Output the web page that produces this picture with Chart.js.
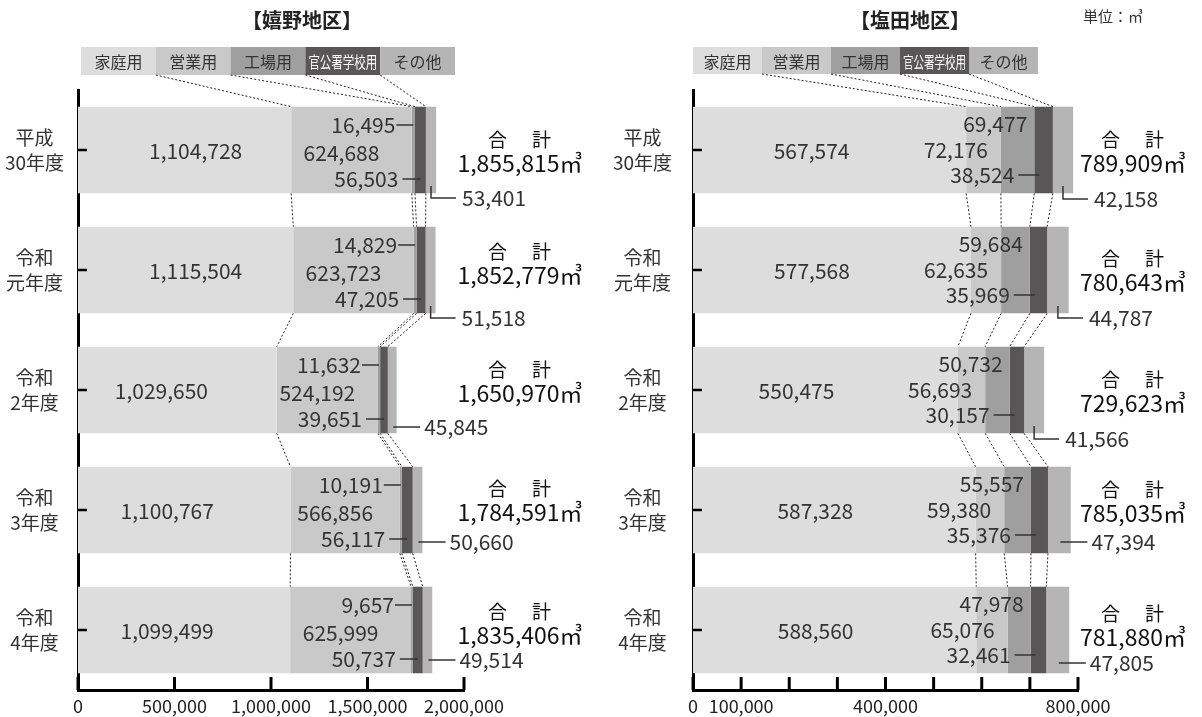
<!DOCTYPE html>
<html><head><meta charset="utf-8">
<script src="https://cdn.jsdelivr.net/npm/chart.js@4/dist/chart.umd.min.js"></script>
<style>
html,body{margin:0;padding:0;background:#fff;}
#wrap{position:relative;width:1202px;height:717px;overflow:hidden;}
canvas{position:absolute;top:0;}
</style></head><body>
<div id="wrap">
<canvas id="cL" style="left:0"></canvas>
<canvas id="cR" style="left:600px"></canvas>
</div>
<script>
// ---------- data ----------
const categories = [['平成','30年度'],['令和','元年度'],['令和','2年度'],['令和','3年度'],['令和','4年度']];
const seriesNames = ['家庭用','営業用','工場用','官公署学校用','その他'];

const ureshinoHome     = [1104728,1115504,1029650,1100767,1099499];
const ureshinoBusiness = [624688,623723,524192,566856,625999];
const ureshinoFactory  = [16495,14829,11632,10191,9657];
const ureshinoPublic   = [56503,47205,39651,56117,50737];
const ureshinoOther    = [53401,51518,45845,50660,49514];
const ureshinoTotal    = [1855815,1852779,1650970,1784591,1835406];

const shiotaHome     = [567574,577568,550475,587328,588560];
const shiotaBusiness = [72176,62635,56693,59380,65076];
const shiotaFactory  = [69477,59684,50732,55557,47978];
const shiotaPublic   = [38524,35969,30157,35376,32461];
const shiotaOther    = [42158,44787,41566,47394,47805];
const shiotaTotal    = [789909,780643,729623,785035,781880];

const ureshinoTickLabels = [0,500000,1000000,1500000,2000000];
const shiotaTickLabels   = [0,100000,400000,800000];

// ---------- style ----------
const FONT = "'Noto Sans CJK JP','Noto Sans',sans-serif";
const colors = ['#dcdddc','#c9c9c9','#9f9f9f','#595657','#b5b5b5'];
const fmt = v => Math.round(v).toLocaleString('en-US');

function seg(chart,k,j){
  const e = chart.getDatasetMeta(k).data[j];
  return {s:Math.min(e.x,e.base), e:Math.max(e.x,e.base), m:(e.x+e.base)/2, c:e.y, h:e.height};
}
function line(ctx,pts){ctx.beginPath();ctx.moveTo(pts[0],pts[1]);for(let i=2;i<pts.length;i+=2)ctx.lineTo(pts[i],pts[i+1]);ctx.stroke();}
function text(ctx,t,x,y,align,font,color){ctx.font=font;ctx.textAlign=align;ctx.textBaseline='middle';ctx.fillStyle=color;ctx.fillText(t,x,y);}

const overlay = {
  id:'overlay',
  afterDraw(chart){
    const o = chart.options.plugins.overlay;
    const ctx = chart.ctx, ca = chart.chartArea;
    const xs = chart.scales.x, ys = chart.scales.y;
    ctx.save();
    // title
    text(ctx,o.title,o.titleX,20,'center',`bold 20px ${FONT}`,'#222');
    if(o.unit) text(ctx,o.unit,o.unitX,16,'left',`15px ${FONT}`,'#333');
    // legend boxes
    const L = o.legend;
    seriesNames.forEach((n,k)=>{
      ctx.fillStyle = colors[k];
      ctx.fillRect(L.x+L.w*k, L.y, L.w, L.h);
      ctx.font = `16px ${FONT}`; ctx.textAlign='center'; ctx.textBaseline='middle';
      ctx.fillStyle = k===3 ? '#fff' : '#333';
      ctx.fillText(n, L.x+L.w*k+L.w/2, L.y+L.h/2+1, L.w-6);
    });
    // tick marks
    ctx.strokeStyle='#000'; ctx.lineWidth=3;
    xs.ticks.forEach((t,i)=>{const p=xs.getPixelForTick(i); line(ctx,[p,ca.bottom,p,ca.bottom-13]);});
    ctx.lineWidth=2.5;
    ys.ticks.forEach((t,i)=>{const p=ys.getPixelForTick(i); line(ctx,[ca.left,p,ca.left+9,p]);});
    // dotted connectors
    ctx.setLineDash([2,2]); ctx.lineWidth=1; ctx.strokeStyle='#222';
    const n = categories.length;
    for(let k=1;k<5;k++){
      const s0 = seg(chart,k,0);
      line(ctx,[L.x+L.w*k, L.y+L.h, s0.s, s0.c-s0.h/2]);
      for(let j=0;j<n-1;j++){
        const a=seg(chart,k,j), b=seg(chart,k,j+1);
        line(ctx,[a.s,a.c+a.h/2,b.s,b.c-b.h/2]);
      }
    }
    ctx.setLineDash([]);
    // labels
    const lf = `21px ${FONT}`, lc = '#333';
    ctx.lineWidth=1.5; ctx.strokeStyle='#333';
    for(let j=0;j<n;j++){
      const h=seg(chart,0,j), b=seg(chart,1,j), f=seg(chart,2,j), p=seg(chart,3,j), x=seg(chart,4,j);
      const c=h.c, vals=o.values;
      text(ctx,fmt(vals[0][j]),h.m+o.homeOff[j],c+1,'center',lf,lc);
      if(o.side==='L'){
        text(ctx,fmt(vals[1][j]),b.m-10,c+3,'center',lf,lc);
        line(ctx,[f.m-17,c-25,f.m,c-25]);
        text(ctx,fmt(vals[2][j]),f.m-18,c-25,'right',lf,lc);
        line(ctx,[p.m-18,c+29,p.m,c+29]);
        text(ctx,fmt(vals[3][j]),p.m-22,c+29,'right',lf,lc);
      } else {
        text(ctx,fmt(vals[1][j]),b.e-13,c+0,'right',lf,lc);
        text(ctx,fmt(vals[2][j]),f.e-7,c-26,'right',lf,lc);
        line(ctx,[p.s-16,c+25,p.s+5,c+25]);
        text(ctx,fmt(vals[3][j]),p.s-20,c+25,'right',lf,lc);
      }
      const oy = c+o.otherY[j];
      if(o.otherStyle[j]==='L'){
        line(ctx,[x.m,c+36,x.m,oy,x.m+25,oy]);
        text(ctx,fmt(vals[4][j]),x.m+31,oy,'left',lf,lc);
      } else {
        line(ctx,[x.m+1,oy,x.m+28,oy]);
        text(ctx,fmt(vals[4][j]),x.m+32,oy,'left',lf,lc);
      }
      const ty = c+o.totalY[j];
      ctx.letterSpacing='3px';
      text(ctx,'合　計',o.totalX+1,ty-23,'center',`19px ${FONT}`,'#111');
      ctx.letterSpacing='0px';
      text(ctx,fmt(o.totals[j])+'㎥',o.totalX,ty,'center',`23px ${FONT}`,'#111');
    }
    ctx.restore();
  }
};

function makeChart(cfg){
  const canvas = document.getElementById(cfg.id);
  canvas.width = cfg.W; canvas.height = 717;
  canvas.style.width = cfg.W+'px'; canvas.style.height='717px';
  const datasets = cfg.values.map((d,k)=>({label:seriesNames[k],data:d,backgroundColor:colors[k],borderWidth:0,barPercentage:0.7225,categoryPercentage:1}));
  return new Chart(canvas,{
    type:'bar',
    data:{labels:categories,datasets},
    plugins:[overlay],
    options:{
      indexAxis:'y',responsive:false,animation:false,devicePixelRatio:1,
      layout:{padding:{left:0,right:cfg.W-cfg.right,top:90,bottom:0}},
      plugins:{legend:{display:false},tooltip:{enabled:false},
        overlay:{title:cfg.title,titleX:cfg.titleX,unit:cfg.unit,unitX:cfg.unitX,legend:cfg.legend,values:cfg.values,totals:cfg.totals,
          side:cfg.side,homeOff:cfg.homeOff,otherStyle:cfg.otherStyle,otherY:cfg.otherY,totalX:cfg.totalX,totalY:cfg.totalY}},
      scales:{
        x:{stacked:true,min:0,max:cfg.max,
          ticks:{stepSize:cfg.step,autoSkip:false,maxRotation:0,padding:5,color:'#222',font:{family:FONT,size:18},
            callback:v=>cfg.tickLabels.includes(Math.round(v))?fmt(v):''},
          grid:{display:false,drawTicks:false},border:{display:true,width:3,color:'#000'},
          afterFit:s=>{s.height=717-690;s.paddingLeft=0;s.paddingRight=0;}},
        y:{stacked:true,
          ticks:{crossAlign:'center',padding:cfg.yPad,color:'#333',font:{family:FONT,size:19,lineHeight:1.3}},
          grid:{display:false,drawTicks:false},border:{display:true,width:3,color:'#000'},
          afterFit:s=>{s.width=cfg.left;s.paddingTop=0;s.paddingBottom=0;}}
      }
    }
  });
}

makeChart({id:'cL',W:600,left:78,right:464,max:2000000,step:500000,tickLabels:ureshinoTickLabels,yPad:14,
  title:'【嬉野地区】',titleX:302,unit:null,unitX:0,
  legend:{x:81,y:47,w:74.8,h:28},
  values:[ureshinoHome,ureshinoBusiness,ureshinoFactory,ureshinoPublic,ureshinoOther],totals:ureshinoTotal,
  side:'L',homeOff:[11,10,-16,-17,-17],otherStyle:['L','L','S','S','S'],otherY:[48,48,37,32,30],
  totalX:520,totalY:[13,5,3,2,5]});

makeChart({id:'cR',W:602,left:93,right:478,max:800000,step:100000,tickLabels:shiotaTickLabels,yPad:21,
  title:'【塩田地区】',titleX:310,unit:'単位：㎥',unitX:483,
  legend:{x:93,y:47,w:69,h:27},
  values:[shiotaHome,shiotaBusiness,shiotaFactory,shiotaPublic,shiotaOther],totals:shiotaTotal,
  side:'R',homeOff:[-18,-20,-29,-19,-19],otherStyle:['L','L','L','S','S'],otherY:[49,48,49,32,33],
  totalX:533,totalY:[13,12,13,3,7]});
</script>
</body></html>
